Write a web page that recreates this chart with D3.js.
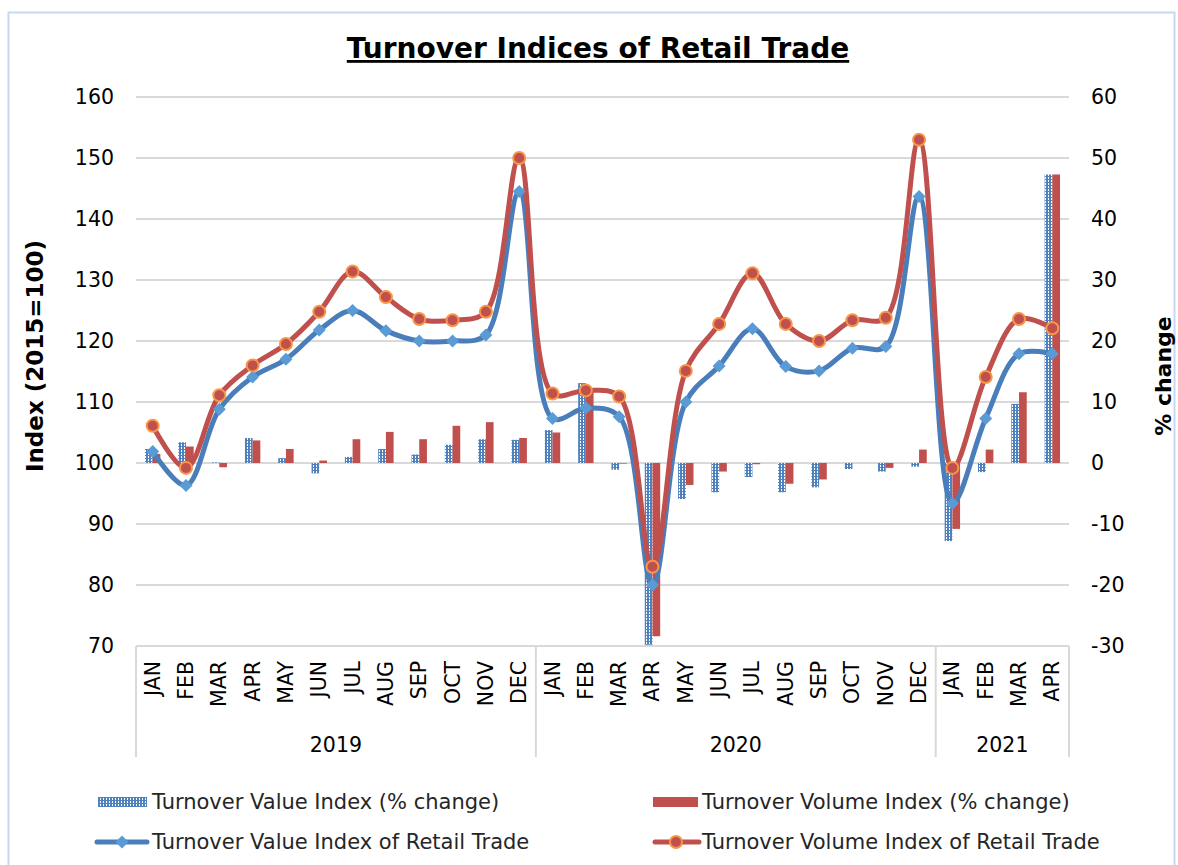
<!DOCTYPE html>
<html>
<head>
<meta charset="utf-8">
<script src="https://cdn.jsdelivr.net/npm/d3@7"></script>
<style>
    body { margin: 0; background: #ffffff; }
    svg { display: block; font-family: Verdana, "DejaVu Sans", sans-serif; }
</style>
</head>
<body>
<svg id="canvas" width="1178" height="865"></svg>
<script>
let months = ["JAN", "FEB", "MAR", "APR", "MAY", "JUN", "JUL", "AUG", "SEP", "OCT", "NOV", "DEC",
    "JAN", "FEB", "MAR", "APR", "MAY", "JUN", "JUL", "AUG", "SEP", "OCT", "NOV", "DEC",
    "JAN", "FEB", "MAR", "APR"]
let years = ["2019", "2020", "2021"]
let monthsPerYear = [12, 12, 4]

// % change (right axis)
let valuePct = [2.3, 3.4, 0.1, 4.1, 0.8, -1.7, 1.0, 2.3, 1.4, 3.0, 3.9, 3.8,
    5.4, 13.1, -1.1, -29.8, -5.9, -4.8, -2.3, -4.8, -4.0, -1.0, -1.4, -0.6,
    -12.8, -1.5, 9.7, 47.3]
let volumePct = [1.5, 2.7, -0.7, 3.7, 2.3, 0.4, 3.9, 5.1, 3.9, 6.1, 6.7, 4.1,
    5.0, 11.9, -0.1, -28.4, -3.6, -1.4, -0.2, -3.4, -2.7, 0.0, -0.8, 2.2,
    -10.8, 2.2, 11.6, 47.3]

// index 2015=100 (left axis)
let valueIdx = [101.9, 96.3, 108.8, 114.1, 117.0, 121.8, 125.0, 121.7, 120.0, 120.0, 121.0, 144.5,
    107.3, 109.0, 107.6, 80.0, 110.0, 115.9, 122.0, 115.8, 115.1, 118.8, 119.1, 143.7,
    93.4, 107.3, 117.9, 117.9]
let volumeIdx = [106.1, 99.2, 111.1, 116.0, 119.5, 124.8, 131.4, 127.2, 123.6, 123.4, 124.8, 150.0,
    111.4, 111.9, 110.9, 83.0, 115.1, 122.8, 131.1, 122.8, 120.0, 123.4, 123.8, 153.0,
    99.2, 114.1, 123.6, 122.1]

let leftTicks = [70, 80, 90, 100, 110, 120, 130, 140, 150, 160]
let rightTicks = [-30, -20, -10, 0, 10, 20, 30, 40, 50, 60]

let legendNames = ["Turnover Value Index (% change)", "Turnover Volume Index (% change)",
    "Turnover Value Index of Retail Trade", "Turnover Volume Index of Retail Trade"]

let blueLine = "#4a7ebb"
let blueMarker = "#5b9bd5"
let blueBar = "#4f81bd"
let red = "#c0504d"
let orange = "#f79646"
let grid = "#d9d9d9"
let font = "Verdana, DejaVu Sans, sans-serif"

let canvas = d3.select("#canvas")

let plotLeft = 136
let plotRight = 1069
let plotTop = 97
let plotBottom = 646

let x = d3.scaleBand()
    .domain(d3.range(months.length))
    .range([plotLeft, plotRight])

let yLeft = d3.scaleLinear().domain([70, 160]).range([plotBottom, plotTop])
let yRight = d3.scaleLinear().domain([-30, 60]).range([plotBottom, plotTop])

let barW = 7.7
let cx = (i) => x(i) + x.bandwidth() / 2

// pattern for the value bars
let defs = canvas.append("defs")
let pat = defs.append("pattern")
    .attr("id", "dots")
    .attr("patternUnits", "userSpaceOnUse")
    .attr("width", 3)
    .attr("height", 3)
pat.append("rect").attr("width", 3).attr("height", 3).attr("fill", blueBar)
pat.append("rect").attr("x", 1).attr("y", 0).attr("width", 1).attr("height", 2).attr("fill", "#ffffff")

// chart border
canvas.append("rect")
    .attr("x", 8.5)
    .attr("y", 12.5)
    .attr("width", 1166)
    .attr("height", 900)
    .attr("fill", "none")
    .attr("stroke", "#c6d9f0")
    .attr("stroke-width", 2)

// title
canvas.append("text")
    .attr("x", 598)
    .attr("y", 58)
    .attr("text-anchor", "middle")
    .attr("font-size", 28)
    .attr("font-weight", "bold")
    .attr("text-decoration", "underline")
    .text("Turnover Indices of Retail Trade")

// gridlines
canvas.append("g")
    .selectAll("line")
    .data(leftTicks)
    .enter()
    .append("line")
    .attr("x1", plotLeft)
    .attr("x2", plotRight)
    .attr("y1", (d) => yLeft(d))
    .attr("y2", (d) => yLeft(d))
    .attr("stroke", grid)
    .attr("stroke-width", 2)

// left axis
let leftAxis = d3.axisLeft(yLeft).tickValues(leftTicks).tickSize(0).tickPadding(22)
    .tickFormat((d) => String(d))
canvas.append("g")
    .attr("transform", "translate(" + plotLeft + ",0)")
    .call(leftAxis)
    .call((g) => g.select(".domain").remove())
    .selectAll("text")
    .attr("font-size", 20.5)
    .attr("font-family", font)
    .attr("fill", "#000")

// right axis
let rightAxis = d3.axisRight(yRight).tickValues(rightTicks).tickSize(0).tickPadding(22)
    .tickFormat((d) => String(d))
canvas.append("g")
    .attr("transform", "translate(" + plotRight + ",0)")
    .call(rightAxis)
    .call((g) => g.select(".domain").remove())
    .selectAll("text")
    .attr("font-size", 20.5)
    .attr("font-family", font)
    .attr("fill", "#000")

// axis titles
canvas.append("text")
    .attr("transform", "translate(35,356) rotate(-90)")
    .attr("text-anchor", "middle")
    .attr("dominant-baseline", "central")
    .attr("font-size", 23)
    .attr("font-weight", "bold")
    .text("Index (2015=100)")

canvas.append("text")
    .attr("transform", "translate(1163,376) rotate(-90)")
    .attr("text-anchor", "middle")
    .attr("dominant-baseline", "central")
    .attr("font-size", 22)
    .attr("font-weight", "bold")
    .text("% change")

// category axis
canvas.append("line")
    .attr("x1", plotLeft)
    .attr("x2", plotRight)
    .attr("y1", plotBottom)
    .attr("y2", plotBottom)
    .attr("stroke", grid)
    .attr("stroke-width", 2)

let starts = [0]
monthsPerYear.forEach((n, i) => starts.push(starts[i] + n))

canvas.append("g")
    .selectAll("line")
    .data(starts)
    .enter()
    .append("line")
    .attr("x1", (d) => d < months.length ? x(d) : plotRight)
    .attr("x2", (d) => d < months.length ? x(d) : plotRight)
    .attr("y1", plotBottom)
    .attr("y2", 757)
    .attr("stroke", grid)
    .attr("stroke-width", 2)

canvas.append("g")
    .selectAll("text")
    .data(months)
    .enter()
    .append("text")
    .attr("transform", (d, i) => "translate(" + cx(i) + ",661) rotate(-90)")
    .attr("text-anchor", "end")
    .attr("dominant-baseline", "central")
    .attr("font-size", 20.5)
    .text((d) => d)

canvas.append("g")
    .selectAll("text")
    .data(years)
    .enter()
    .append("text")
    .attr("x", (d, i) => {
        let a = x(starts[i])
        let b = starts[i + 1] < months.length ? x(starts[i + 1]) : plotRight
        return (a + b) / 2
    })
    .attr("y", 745)
    .attr("text-anchor", "middle")
    .attr("dominant-baseline", "central")
    .attr("font-size", 20.5)
    .text((d) => d)

// bars
let drawBars = (values, offset, fill) => {
    canvas.append("g")
        .selectAll("rect")
        .data(values)
        .enter()
        .append("rect")
        .attr("x", (d, i) => cx(i) + offset)
        .attr("width", barW)
        .attr("y", (d) => yRight(Math.max(0, d)))
        .attr("height", (d) => Math.abs(yRight(d) - yRight(0)))
        .attr("fill", fill)
}
drawBars(valuePct, -barW, "url(#dots)")
drawBars(volumePct, 0, red)

// lines
let line = (values) => d3.line()
    .x((d, i) => cx(i))
    .y((d) => yLeft(d))
    .curve(d3.curveCatmullRom.alpha(0.5))(values)

canvas.append("path")
    .attr("d", line(valueIdx))
    .attr("fill", "none")
    .attr("stroke", blueLine)
    .attr("stroke-width", 5)
    .attr("stroke-linecap", "round")

canvas.append("path")
    .attr("d", line(volumeIdx))
    .attr("fill", "none")
    .attr("stroke", red)
    .attr("stroke-width", 5)
    .attr("stroke-linecap", "round")

let diamond = "M0,-6.5L6.5,0L0,6.5L-6.5,0Z"

canvas.append("g")
    .selectAll("path")
    .data(valueIdx)
    .enter()
    .append("path")
    .attr("d", diamond)
    .attr("transform", (d, i) => "translate(" + cx(i) + "," + yLeft(d) + ")")
    .attr("fill", blueMarker)

canvas.append("g")
    .selectAll("circle")
    .data(volumeIdx)
    .enter()
    .append("circle")
    .attr("cx", (d, i) => cx(i))
    .attr("cy", (d) => yLeft(d))
    .attr("r", 6)
    .attr("fill", red)
    .attr("stroke", orange)
    .attr("stroke-width", 2)

// legend
let legendX = [98, 653]
let legendY = [802, 842]

canvas.append("rect")
    .attr("x", legendX[0])
    .attr("y", 797)
    .attr("width", 49)
    .attr("height", 10)
    .attr("fill", "url(#dots)")
canvas.append("rect")
    .attr("x", legendX[1])
    .attr("y", 797)
    .attr("width", 45)
    .attr("height", 10)
    .attr("fill", red)

let legendLine = (x0, x1, color) => {
    canvas.append("line")
        .attr("x1", x0)
        .attr("x2", x1)
        .attr("y1", legendY[1])
        .attr("y2", legendY[1])
        .attr("stroke", color)
        .attr("stroke-width", 5)
        .attr("stroke-linecap", "round")
}
legendLine(97, 147, blueLine)
legendLine(655, 699, red)
canvas.append("path")
    .attr("d", diamond)
    .attr("transform", "translate(122," + legendY[1] + ")")
    .attr("fill", blueMarker)
canvas.append("circle")
    .attr("cx", 676)
    .attr("cy", legendY[1])
    .attr("r", 6)
    .attr("fill", red)
    .attr("stroke", orange)
    .attr("stroke-width", 2)

canvas.append("g")
    .selectAll("text")
    .data(legendNames)
    .enter()
    .append("text")
    .attr("x", (d, i) => i % 2 == 0 ? 152 : 702)
    .attr("y", (d, i) => legendY[Math.floor(i / 2)])
    .attr("dominant-baseline", "central")
    .attr("font-size", 21)
    .attr("fill", "#262626")
    .text((d) => d)
</script>
</body>
</html>
